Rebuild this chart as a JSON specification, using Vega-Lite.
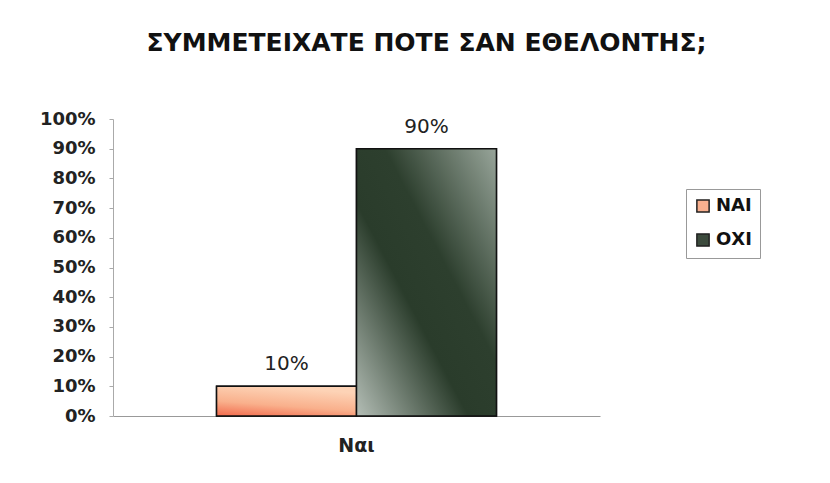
{
  "$schema": "https://vega.github.io/schema/vega-lite/v6.json",
  "autosize": {"type": "none"},
  "width": 487,
  "height": 297,
  "padding": {"left": 113, "top": 119, "right": 230, "bottom": 67},
  "background": "white",
  "title": {
    "text": "ΣΥΜΜΕΤΕΙΧΑΤΕ ΠΟΤΕ ΣΑΝ ΕΘΕΛΟΝΤΗΣ;",
    "font": "DejaVu Sans",
    "fontSize": 25,
    "fontWeight": "bold",
    "color": "#111",
    "anchor": "middle",
    "frame": "group",
    "dx": 70,
    "offset": 54
  },
  "data": {
    "values": [
      {"cat": "Ναι", "answer": "ΝΑΙ", "value": 0.1},
      {"cat": "Ναι", "answer": "ΟΧΙ", "value": 0.9}
    ]
  },
  "encoding": {
    "x": {
      "field": "cat",
      "type": "nominal",
      "scale": {"paddingInner": 0, "paddingOuter": 0.37},
      "axis": {
        "title": null,
        "labelAngle": 0,
        "ticks": false,
        "labelFont": "DejaVu Sans",
        "labelFontSize": 19,
        "labelFontWeight": "bold",
        "labelColor": "#222",
        "labelPadding": 20,
        "domainColor": "#999"
      }
    },
    "xOffset": {
      "field": "answer",
      "type": "nominal",
      "scale": {"domain": ["ΝΑΙ", "ΟΧΙ"], "paddingInner": 0, "paddingOuter": 0}
    },
    "y": {
      "field": "value",
      "type": "quantitative",
      "scale": {"domain": [0, 1]},
      "axis": {
        "title": null,
        "format": ".0%",
        "values": [0, 0.1, 0.2, 0.3, 0.4, 0.5, 0.6, 0.7, 0.8, 0.9, 1],
        "grid": false,
        "domainColor": "#aaa",
        "tickColor": "#aaa",
        "tickSize": 4,
        "labelFont": "DejaVu Sans",
        "labelFontSize": 18,
        "labelFontWeight": "bold",
        "labelColor": "#222",
        "labelPadding": 14
      }
    }
  },
  "layer": [
    {
      "mark": {"type": "bar", "stroke": "#111", "strokeWidth": 1.5},
      "encoding": {
        "color": {
          "field": "answer",
          "type": "nominal",
          "scale": {"domain": ["ΝΑΙ", "ΟΧΙ"], "range": ["#f9b08f", "#3c4b3d"]},
          "legend": {
            "title": null,
            "orient": "none",
            "legendX": 573,
            "legendY": 70,
            "strokeColor": "#999",
            "padding": 8,
            "symbolType": "square",
            "symbolSize": 150,
            "symbolStrokeColor": "#222",
            "symbolStrokeWidth": 1.5,
            "labelFont": "DejaVu Sans",
            "labelFontSize": 18,
            "labelFontWeight": "bold",
            "labelColor": "#111",
            "rowPadding": 14,
            "labelOffset": 4
          }
        }
      }
    },
    {
      "transform": [{"filter": "datum.answer === 'ΝΑΙ'"}],
      "mark": {
        "type": "bar",
        "stroke": "#111",
        "strokeWidth": 1.5,
        "fill": {
          "gradient": "linear",
          "x1": 0, "y1": 1, "x2": 0.35, "y2": 0,
          "stops": [
            {"offset": 0, "color": "#f26a4c"},
            {"offset": 0.45, "color": "#f9b08c"},
            {"offset": 1, "color": "#fdd3b6"}
          ]
        }
      }
    },
    {
      "transform": [{"filter": "datum.answer === 'ΟΧΙ'"}],
      "mark": {
        "type": "bar",
        "stroke": "#111",
        "strokeWidth": 1.5,
        "fill": {
          "gradient": "linear",
          "x1": 0, "y1": 1, "x2": 1, "y2": 0,
          "stops": [
            {"offset": 0, "color": "#b4beb6"},
            {"offset": 0.4, "color": "#2a3c2b"},
            {"offset": 0.6, "color": "#2d3f2e"},
            {"offset": 1, "color": "#98a59a"}
          ]
        }
      }
    },
    {
      "mark": {
        "type": "text",
        "baseline": "alphabetic",
        "dy": -16,
        "font": "DejaVu Sans",
        "fontSize": 20,
        "color": "#222"
      },
      "encoding": {
        "text": {"field": "value", "type": "quantitative", "format": ".0%"}
      }
    }
  ],
  "config": {"view": {"stroke": null}}
}
